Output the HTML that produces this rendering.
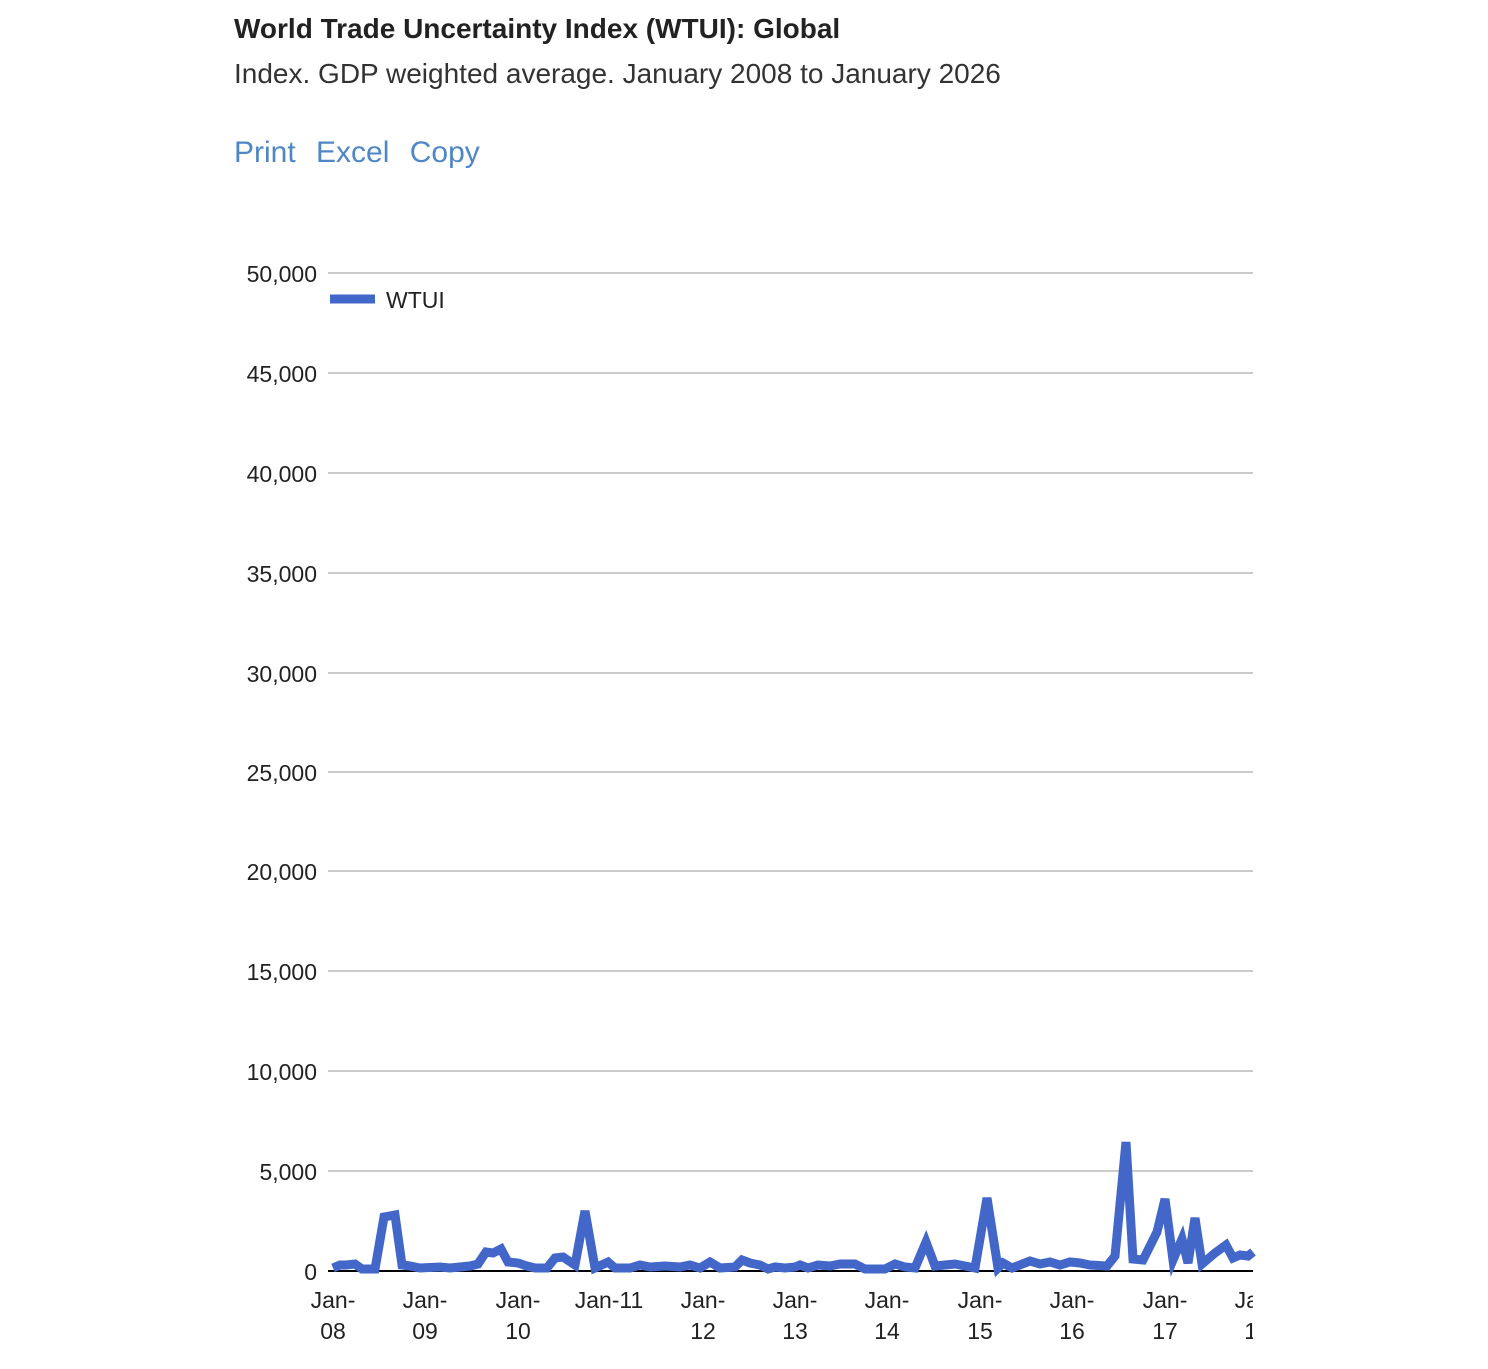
<!DOCTYPE html>
<html><head><style>
body{margin:0;background:#fff;font-family:"Liberation Sans",Arial,sans-serif;}
.t{position:absolute;left:234px;white-space:nowrap}
</style></head><body>
<div class="t" style="top:13px;font-size:28px;font-weight:bold;color:#222">World Trade Uncertainty Index (WTUI): Global</div>
<div class="t" style="top:58px;font-size:28px;color:#333">Index. GDP weighted average. January 2008 to January 2026</div>
<div class="t" style="top:136px;font-size:30px;color:#4f86c6;word-spacing:12px">Print Excel Copy</div>
<svg width="1488" height="1369" style="position:absolute;left:0;top:0" font-family="Liberation Sans, Arial, sans-serif">
<g stroke="#cccccc" stroke-width="2">
<line x1="328" x2="1253" y1="273" y2="273"/><line x1="328" x2="1253" y1="373" y2="373"/>
<line x1="328" x2="1253" y1="473" y2="473"/><line x1="328" x2="1253" y1="573" y2="573"/>
<line x1="328" x2="1253" y1="673" y2="673"/><line x1="328" x2="1253" y1="772" y2="772"/>
<line x1="328" x2="1253" y1="871" y2="871"/><line x1="328" x2="1253" y1="971" y2="971"/>
<line x1="328" x2="1253" y1="1071" y2="1071"/><line x1="328" x2="1253" y1="1171" y2="1171"/>
</g>
<g font-size="23" fill="#222" text-anchor="end">
<text x="317" y="282">50,000</text><text x="317" y="382">45,000</text><text x="317" y="482">40,000</text>
<text x="317" y="582">35,000</text><text x="317" y="682">30,000</text><text x="317" y="781">25,000</text>
<text x="317" y="880">20,000</text><text x="317" y="980">15,000</text><text x="317" y="1080">10,000</text>
<text x="317" y="1180">5,000</text><text x="317" y="1280">0</text>
</g>
<line x1="328" x2="1253" y1="1271" y2="1271" stroke="#000" stroke-width="2"/>
<line x1="330" x2="375" y1="299" y2="299" stroke="#4267c8" stroke-width="9"/>
<text x="386" y="308" font-size="23" fill="#222">WTUI</text>
<polyline fill="none" stroke="#4267c8" stroke-width="9" stroke-linejoin="miter" points="333,1268 340,1265 346,1265 355,1264 362,1269 375,1269 384,1217 395,1215 402,1265 410,1266 420,1268 440,1267 450,1268 470,1266 478,1264 486,1252 493,1253 501,1249 508,1262 518,1263 527,1266 535,1268 547,1268 555,1258 563,1257 575,1265 585,1211 595,1268 608,1262 615,1268 630,1268 640,1265 650,1267 665,1266 680,1267 690,1265 700,1268 710,1262 720,1268 735,1267 742,1260 750,1263 760,1265 768,1269 775,1267 785,1268 795,1267 800,1265 808,1268 818,1265 830,1266 840,1264 855,1264 865,1269 885,1269 895,1264 905,1267 915,1268 926,1242 935,1266 945,1265 955,1264 965,1266 975,1268 987,1198 998,1268 1003,1263 1012,1268 1030,1261 1040,1264 1050,1262 1060,1265 1070,1262 1080,1263 1090,1265 1107,1266 1115,1256 1126,1142 1133,1259 1143,1260 1157,1232 1165,1199 1173,1260 1182,1239 1188,1263 1195,1218 1202,1264 1215,1253 1226,1245 1233,1258 1240,1255 1248,1256 1253,1252"/>
<g font-size="23" fill="#222" text-anchor="middle">
<text x="333" y="1308">Jan-</text><text x="333" y="1339">08</text>
<text x="425" y="1308">Jan-</text><text x="425" y="1339">09</text>
<text x="518" y="1308">Jan-</text><text x="518" y="1339">10</text>
<text x="609" y="1308">Jan-11</text>
<text x="703" y="1308">Jan-</text><text x="703" y="1339">12</text>
<text x="795" y="1308">Jan-</text><text x="795" y="1339">13</text>
<text x="887" y="1308">Jan-</text><text x="887" y="1339">14</text>
<text x="980" y="1308">Jan-</text><text x="980" y="1339">15</text>
<text x="1072" y="1308">Jan-</text><text x="1072" y="1339">16</text>
<text x="1165" y="1308">Jan-</text><text x="1165" y="1339">17</text>
</g>
<svg x="1200" y="1280" width="53" height="70"><g font-size="23" fill="#222" text-anchor="middle"><text x="57" y="28">Jan-</text><text x="57" y="59">18</text></g></svg>
</svg>
</body></html>
